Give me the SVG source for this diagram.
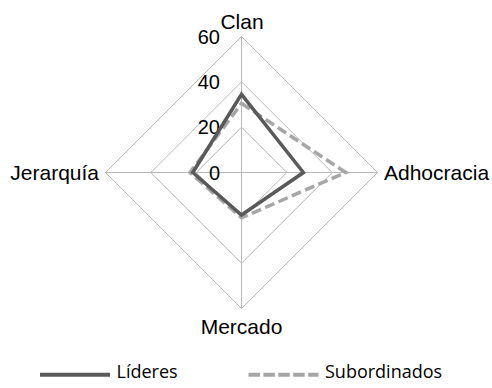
<svg xmlns="http://www.w3.org/2000/svg" width="492" height="388" viewBox="0 0 492 388">
<style>
.grid{fill:none;stroke:#b8b8b8;stroke-width:1}
.lbl{font-family:"Liberation Sans",Arial,sans-serif;font-size:21px;fill:#000}
.tick{font-family:"Liberation Sans",Arial,sans-serif;font-size:20px;fill:#000;text-anchor:end}
.lid{fill:none;stroke:#595959;stroke-width:3.5;stroke-linejoin:miter}
.sub{fill:none;stroke:#a6a6a6;stroke-width:3.5;stroke-dasharray:10 4.5;stroke-linejoin:miter}
.leg{font-family:"Open Sans","Noto Sans",sans-serif;font-size:18px;fill:#000}
</style>
<rect width="492" height="388" fill="#fff"/>
<g id="grid">
<polygon class="grid" points="241.5,127.2 286.8,172.5 241.5,217.8 196.2,172.5"/>
<polygon class="grid" points="241.5,81.8 332.2,172.5 241.5,263.2 150.8,172.5"/>
<polygon class="grid" points="241.5,36.5 377.5,172.5 241.5,308.5 105.5,172.5"/>
<line class="grid" x1="241.5" y1="36.5" x2="241.5" y2="308.5"/>
<line class="grid" x1="105.5" y1="172.5" x2="377.5" y2="172.5"/>
</g>
<g id="ticks">
<text class="tick" x="220" y="43.5">60</text>
<text class="tick" x="220" y="88.8">40</text>
<text class="tick" x="220" y="134.2">20</text>
<text class="tick" x="220" y="179.5">0</text>
</g>
<g id="axis-labels">
<text id="clan" class="lbl" x="242" y="28.5" text-anchor="middle">Clan</text>
<text id="adhocracia" class="lbl" x="384" y="179.5">Adhocracia</text>
<text id="mercado" class="lbl" x="241.5" y="333.5" text-anchor="middle">Mercado</text>
<text id="jerarquia" class="lbl" x="99" y="179.5" text-anchor="end">Jerarquía</text>
</g>
<g id="series">
<polygon id="subordinados" class="sub" points="241.5,103.4 345.8,172.5 241.5,217.8 190,172.5"/>
<polygon id="lideres" class="lid" points="241.5,94.3 303.4,172.5 241.5,215 192.8,172.5"/>
</g>
<g id="legend">
<line x1="40" y1="374.7" x2="110" y2="374.7" stroke="#595959" stroke-width="4"/>
<text class="leg" x="116.5" y="377.7">Líderes</text>
<line x1="248.5" y1="374.7" x2="318.5" y2="374.7" stroke="#a6a6a6" stroke-width="4" stroke-dasharray="11.5 3.4"/>
<text class="leg" x="325" y="377.7">Subordinados</text>
</g>
</svg>
